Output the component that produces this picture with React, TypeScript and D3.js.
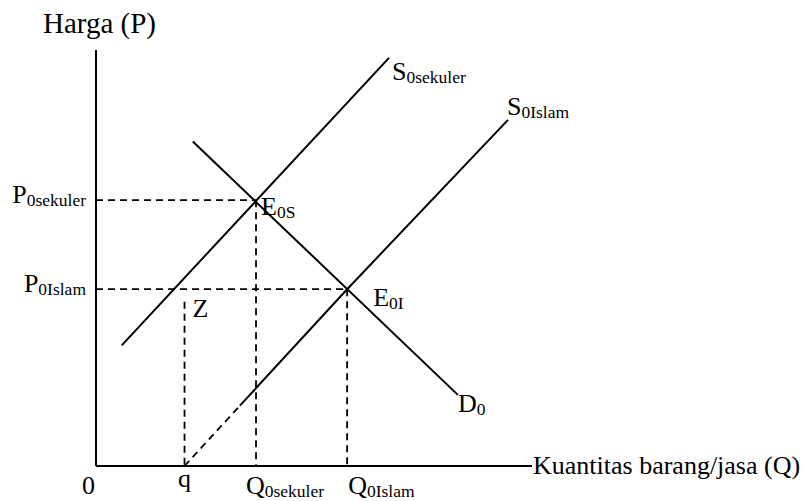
import React from "react";
import * as d3 from "d3";

// ---- data (economic units: quantity 0..100, price 0..100) ----
const axisMax = [100, 100];
const s0SekulerQ = [5.9, 67.2];
const s0SekulerP = [29.0, 98.1];
const s0IslamDashQ = [20.3, 33.0];
const s0IslamDashP = [0, 14.5];
const s0IslamQ = [33.0, 57.6, 94.5];
const s0IslamP = [14.5, 42.5, 83.2];
const d0Q = [22.2, 83.0];
const d0P = [78.0, 17.1];
const eqNames = ["0S", "0I"];
const eqQ = [36.7, 57.6];
const eqP = [63.9, 42.5];
const priceLabels = ["0sekuler", "0Islam"];
const qtyLabels = ["0sekuler", "0Islam"];
const zQ = 20.3;
const zP = 39.5;

const W = 806;
const H = 501;
const FONT = "'Liberation Serif', 'Times New Roman', serif";
const FS = 26;
const SUB = 17.5;

export default function App() {
  const x = d3.scaleLinear().domain([0, axisMax[0]]).range([96, 532]);
  const y = d3.scaleLinear().domain([0, axisMax[1]]).range([466, 50]);
  const line = d3
    .line<[number, number]>()
    .x((d) => x(d[0]))
    .y((d) => y(d[1]));
  const pts = (qs: number[], ps: number[]) =>
    qs.map((q, i) => [q, ps[i]] as [number, number]);

  const dash = "7,5";
  const sub = (main: string, s: string, px: number, py: number, anchor = "start", key?: string) => (
    <text key={key} x={px} y={py} fontFamily={FONT} fontSize={FS} textAnchor={anchor} fill="#000">
      {main}
      <tspan fontSize={SUB} dy={3}>{s}</tspan>
    </text>
  );

  const sekTop = pts(s0SekulerQ, s0SekulerP)[1];
  const islTop = pts(s0IslamQ, s0IslamP)[2];
  const dBot = pts(d0Q, d0P)[1];

  return (
    <svg width={W} height={H} style={{ position: "absolute", left: 0, top: 0, background: "#fff" }}>
      <rect width={W} height={H} fill="#fff" />
      {/* axes */}
      <line x1={x(0)} y1={y(0)} x2={x(0)} y2={y(axisMax[1])} stroke="#000" strokeWidth={2} />
      <line x1={x(0)} y1={y(0)} x2={x(axisMax[0])} y2={y(0)} stroke="#000" strokeWidth={2} />
      <text x={43} y={y(axisMax[1]) - 17} fontFamily={FONT} fontSize={29}>Harga (P)</text>
      <text x={x(axisMax[0]) + 1} y={y(0) + 8} fontFamily={FONT} fontSize={FS}>Kuantitas barang/jasa (Q)</text>
      <text x={x(0) - 14} y={y(0) + 28} fontFamily={FONT} fontSize={FS}>0</text>

      {/* dashed guides */}
      {eqQ.map((q, i) => (
        <g key={"g" + i}>
          <line x1={x(0)} y1={y(eqP[i])} x2={x(q)} y2={y(eqP[i])} stroke="#000" strokeWidth={1.8} strokeDasharray={dash} />
          <line x1={x(q)} y1={y(eqP[i])} x2={x(q)} y2={y(0)} stroke="#000" strokeWidth={1.8} strokeDasharray={dash} />
        </g>
      ))}
      <line x1={x(zQ)} y1={y(zP)} x2={x(zQ)} y2={y(0)} stroke="#000" strokeWidth={1.8} strokeDasharray={dash} />
      <path d={line(pts(s0IslamDashQ, s0IslamDashP)) || ""} fill="none" stroke="#000" strokeWidth={1.8} strokeDasharray={dash} />

      {/* curves */}
      <path d={line(pts(s0SekulerQ, s0SekulerP)) || ""} fill="none" stroke="#000" strokeWidth={2} />
      <path d={line(pts(s0IslamQ, s0IslamP)) || ""} fill="none" stroke="#000" strokeWidth={2} />
      <path d={line(pts(d0Q, d0P)) || ""} fill="none" stroke="#000" strokeWidth={2} />

      {/* labels */}
      {sub("S", "0sekuler", x(sekTop[0]) + 3, y(sekTop[1]) + 22)}
      {sub("S", "0Islam", x(islTop[0]) - 1, y(islTop[1]) - 5)}
      {sub("D", "0", x(dBot[0]), y(dBot[1]) + 17)}
      {sub("E", eqNames[0], x(eqQ[0]) + 5, y(eqP[0]) + 15)}
      {sub("E", eqNames[1], x(eqQ[1]) + 26, y(eqP[1]) + 17)}
      {priceLabels.map((l, i) => sub("P", l, x(0) - 10, y(eqP[i]) + 3, "end", "p" + i))}
      {qtyLabels.map((l, i) => sub("Q", l, x(eqQ[i]) + (i === 0 ? -10 : 1), y(0) + 28, "start", "q" + i))}
      <text x={x(zQ)} y={y(0) + 21} fontFamily={FONT} fontSize={FS} textAnchor="middle">q</text>
      <text x={x(zQ) + 8} y={y(zP) + 15} fontFamily={FONT} fontSize={FS}>Z</text>
    </svg>
  );
}
